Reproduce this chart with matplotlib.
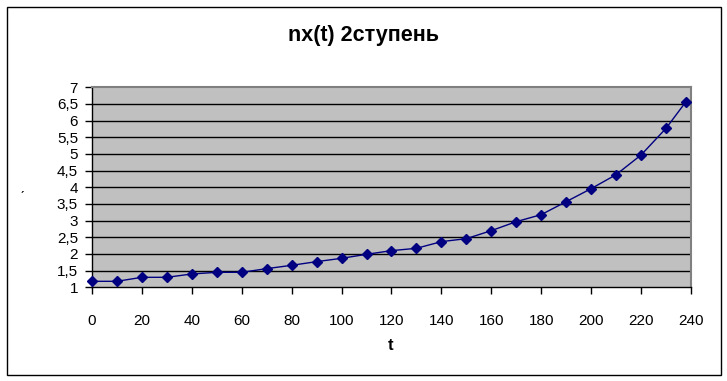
import matplotlib.pyplot as plt
from matplotlib.patches import Rectangle

# data
t = [0, 10, 20, 30, 40, 50, 60, 70, 80, 90, 100, 110, 120,
     130, 140, 150, 160, 170, 180, 190, 200, 210, 220, 230, 238]
nx = [1.18, 1.18, 1.3, 1.3, 1.4, 1.45, 1.45, 1.56, 1.66, 1.77, 1.87, 1.99, 2.1,
      2.17, 2.37, 2.46, 2.7, 2.97, 3.18, 3.57, 3.96, 4.38, 4.97, 5.77, 6.57]
x_ticks = list(range(0, 241, 20))
y_ticks = [1, 1.5, 2, 2.5, 3, 3.5, 4, 4.5, 5, 5.5, 6, 6.5, 7]
y_labels = [('%g' % v).replace('.', ',') for v in y_ticks]

plt.rcParams['font.family'] = ['Liberation Sans', 'DejaVu Sans']

fig = plt.figure(figsize=(7.27, 3.81), dpi=100)
ax = fig.add_axes([0.1265, 0.2459, 0.824, 0.525])

# outer chart frame
fig.patches.append(Rectangle((6.5 / 727, 1 - 375 / 381), 714 / 727, 368 / 381,
                             transform=fig.transFigure, fill=False,
                             edgecolor='black', linewidth=1))

ax.set_facecolor('#c0c0c0')
for v in y_ticks[1:-1]:
    ax.axhline(v, color='black', linewidth=1, zorder=1)

ax.plot(t, nx, color='#000080', linewidth=1, marker='D', markersize=5.5,
        zorder=3, clip_on=False)

ax.set_xlim(0, 240)
ax.set_ylim(1, 7)
ax.set_xticks(x_ticks)
ax.set_yticks(y_ticks)
ax.set_yticklabels(y_labels)
ax.tick_params(axis='x', direction='out', length=5, width=1, pad=14, labelsize=11)
ax.tick_params(axis='y', direction='out', length=5, width=1, pad=5, labelsize=11)

for side in ('top', 'right'):
    ax.spines[side].set_color('#808080')
    ax.spines[side].set_linewidth(1.5)
for side in ('left', 'bottom'):
    ax.spines[side].set_color('black')
    ax.spines[side].set_linewidth(1)

fig.text(363 / 727, 1 - 35 / 381, 'nx(t) 2ступень', ha='center', va='center',
         fontsize=15.5, fontweight='bold',
         family=['Liberation Sans Narrow', 'Liberation Sans', 'DejaVu Sans'])
fig.text(391 / 727, 1 - 345 / 381, 't', ha='center', va='center',
         fontsize=12, fontweight='bold')
fig.text(22 / 727, 1 - 198 / 381, 'ˊ', ha='center', va='center', fontsize=11)

fig.savefig('out.png', dpi=100)
